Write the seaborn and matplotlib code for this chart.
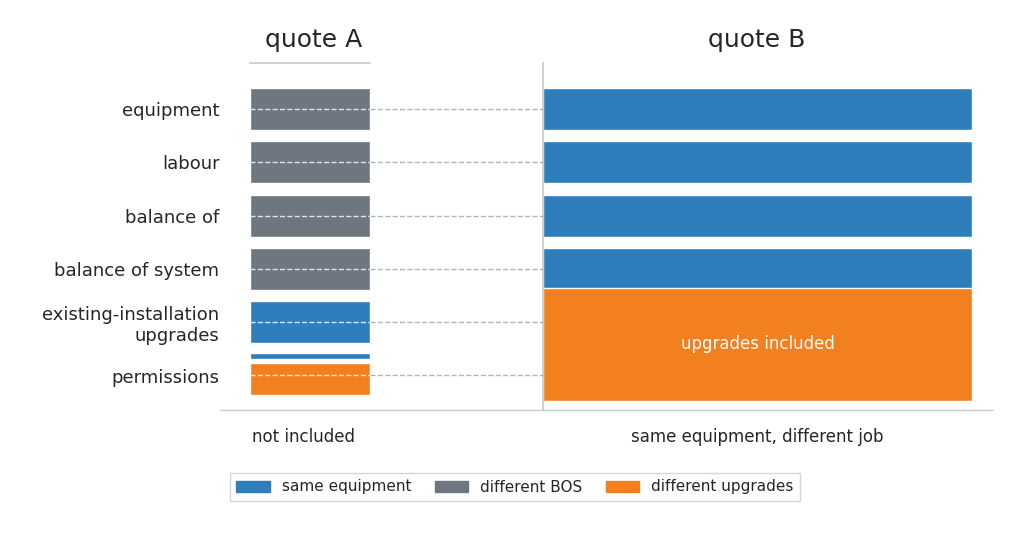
import matplotlib
matplotlib.use("Agg")
import matplotlib.pyplot as plt
import seaborn as sns
from matplotlib.lines import Line2D
from matplotlib.patches import Patch

sns.set_theme(style="white")
plt.rcParams['font.family'] = ['DejaVu Sans']

rows = ["equipment", "labour", "balance of", "balance of system",
        "existing-installation\nupgrades", "permissions"]
# quote A segments: (row position, height, category)
a_pos = [0, 1, 2, 3, 4, 4.64, 5.07]
a_h = [0.79, 0.79, 0.79, 0.79, 0.79, 0.11, 0.6]
a_cat = ["bos", "bos", "bos", "bos", "equip", "equip", "upg"]
# quote B segments
b_pos = [0, 1, 2, 3, 4.41]
b_h = [0.79, 0.79, 0.79, 0.79, 2.12]
b_cat = ["equip", "equip", "equip", "equip", "upg"]
colors = {"equip": "#2f7ebc", "bos": "#6e7680", "upg": "#f2801f"}
legend_labels = {"equip": "same equipment", "bos": "different BOS", "upg": "different upgrades"}

W, H = 1024, 536
fig = plt.figure(figsize=(W/100, H/100), dpi=100)
def fx(x): return x/W
def fy(y): return 1 - y/H

ylim = (5.647, -0.863)
axA = fig.add_axes([fx(250), fy(410), 120/W, 347/H])
axB = fig.add_axes([fx(543), fy(410), 450/W, 347/H])
for ax in (axA, axB):
    ax.set_ylim(*ylim)
    ax.set_xticks([])
    for s in ax.spines.values():
        s.set_visible(False)
axA.set_xlim(0, 1)
axB.set_xlim(0, 450/429)
axA.barh(a_pos, [1]*len(a_pos), height=a_h, color=[colors[c] for c in a_cat])
axB.barh(b_pos, [1]*len(b_pos), height=b_h, color=[colors[c] for c in b_cat])
axB.text(0.5, 4.41, "upgrades included", color="white", fontsize=12, ha="center", va="center")

axA.spines['top'].set_visible(True); axA.spines['top'].set_color("#cccccc")
axB.spines['left'].set_visible(True); axB.spines['left'].set_color("#cccccc")
axA.set_yticks(range(len(rows)))
axA.set_yticklabels(rows, fontsize=13, ha="right")
axA.tick_params(axis='y', length=0, pad=22)
axB.set_yticks([])

for i in range(len(rows)):
    y = fy(109 + 53.3*i) if i < 5 else fy(375)
    fig.add_artist(Line2D([fx(250), fx(370)], [y, y], color="white", ls="--", lw=1, alpha=0.8))
    fig.add_artist(Line2D([fx(370), fx(543)], [y, y], color="#b5b5b5", ls="--", lw=1))
fig.add_artist(Line2D([fx(220), fx(993)], [fy(410), fy(410)], color="#cccccc", lw=1))

fig.text(fx(314), fy(40), "quote A", fontsize=18, ha="center", va="center")
fig.text(fx(757), fy(40), "quote B", fontsize=18, ha="center", va="center")
fig.text(fx(304), fy(437), "not included", fontsize=12, ha="center", va="center")
fig.text(fx(757), fy(437), "same equipment, different job", fontsize=12, ha="center", va="center")

handles = [Patch(color=colors[k], label=legend_labels[k]) for k in ["equip", "bos", "upg"]]
fig.legend(handles=handles, loc="center", bbox_to_anchor=(fx(515), fy(487)), ncol=3,
           fontsize=11, frameon=True, edgecolor="#cccccc", fancybox=False,
           handlelength=2.2, handleheight=0.7, columnspacing=1.5)
fig.savefig("out.png", dpi=100, facecolor="white")
